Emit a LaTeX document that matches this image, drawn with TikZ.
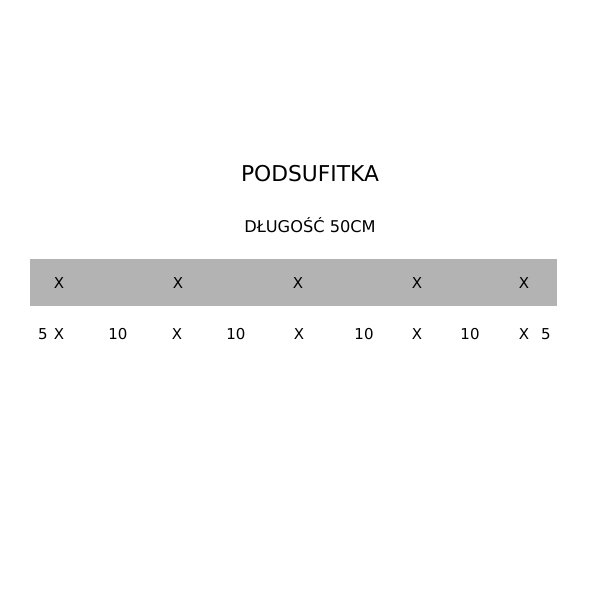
\documentclass[tikz,border=0pt]{standalone}
\usepackage{fontspec}
\setmainfont{DejaVu Sans}
\begin{document}
\begin{tikzpicture}[x=1pt,y=-1pt,
  lbl/.style={inner sep=0pt, font=\fontsize{15}{15}\selectfont, text=black},
  title/.style={inner sep=0pt, font=\fontsize{21.8}{22}\selectfont, text=black},
  sub/.style={inner sep=0pt, font=\fontsize{16.2}{16}\selectfont, text=black}]
\useasboundingbox (0,0) rectangle (600,600);
\fill[fill=white] (0,0) rectangle (600,600);
\node[title] (t) at (310,174) {PODSUFITKA};
\node[sub] (s) at (310,225) {DŁUGOŚĆ 50CM};
\fill[fill={rgb,255:red,179;green,179;blue,179}] (30,259) rectangle (557,306);
\node[lbl] (a1) at (59,283) {X};
\node[lbl] (a2) at (178,283) {X};
\node[lbl] (a3) at (298,283) {X};
\node[lbl] (a4) at (417,283) {X};
\node[lbl] (a5) at (524,283) {X};
\node[lbl] (b0) at (43,334) {5};
\node[lbl] (b1) at (59,334) {X};
\node[lbl] (c1) at (118,334) {10};
\node[lbl] (b2) at (177,334) {X};
\node[lbl] (c2) at (236,334) {10};
\node[lbl] (b3) at (299,334) {X};
\node[lbl] (c3) at (364,334) {10};
\node[lbl] (b4) at (417,334) {X};
\node[lbl] (c4) at (470,334) {10};
\node[lbl] (b5) at (524,334) {X};
\node[lbl] (b6) at (546,334) {5};
\end{tikzpicture}
\end{document}
